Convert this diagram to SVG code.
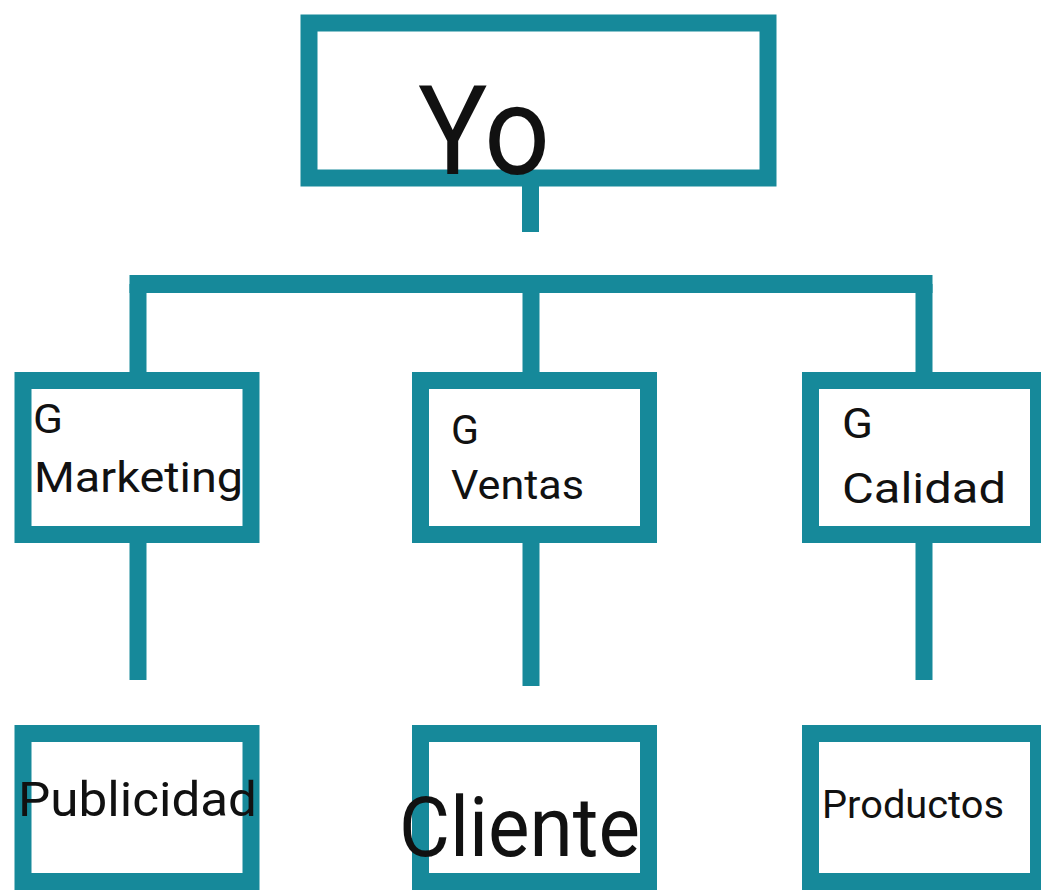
<svg xmlns="http://www.w3.org/2000/svg" width="1041" height="890" viewBox="0 0 1041 890">
<style>
.box{fill:none;stroke:#16899a;stroke-width:17}
.con{fill:none;stroke:#16899a;stroke-width:17;stroke-linecap:butt}
.t{font-family:Roboto,"Liberation Sans",sans-serif;fill:#111111}
</style>
<rect width="1041" height="890" fill="#ffffff"/>
<g id="connectors">
<line class="con" x1="530.5" y1="178" x2="530.5" y2="232"/>
<line class="con" x1="129.5" y1="284" x2="932.5" y2="284" style="stroke-width:18"/>
<line class="con" x1="138" y1="284" x2="138" y2="380"/>
<line class="con" x1="531" y1="284" x2="531" y2="380"/>
<line class="con" x1="924" y1="284" x2="924" y2="380"/>
<line class="con" x1="138" y1="535" x2="138" y2="680"/>
<line class="con" x1="531" y1="535" x2="531" y2="686"/>
<line class="con" x1="924" y1="535" x2="924" y2="680"/>
</g>
<g id="node-yo">
<rect class="box" x="309" y="23" width="459" height="155"/>
<text class="t" x="418" y="174" font-size="124" textLength="132" lengthAdjust="spacingAndGlyphs">Yo</text>
</g>
<g id="node-marketing">
<rect class="box" x="23" y="380.5" width="228" height="154"/>
<text class="t" x="33" y="433" font-size="41" textLength="30" lengthAdjust="spacingAndGlyphs">G</text>
<text class="t" x="34" y="492" font-size="43" textLength="209" lengthAdjust="spacingAndGlyphs">Marketing</text>
</g>
<g id="node-ventas">
<rect class="box" x="420.5" y="380.5" width="228" height="154"/>
<text class="t" x="451" y="444" font-size="40" textLength="28" lengthAdjust="spacingAndGlyphs">G</text>
<text class="t" x="451" y="499" font-size="41" textLength="133" lengthAdjust="spacingAndGlyphs">Ventas</text>
</g>
<g id="node-calidad">
<rect class="box" x="810.5" y="380.5" width="228" height="154"/>
<text class="t" x="842" y="438" font-size="42" textLength="31" lengthAdjust="spacingAndGlyphs">G</text>
<text class="t" x="842" y="503" font-size="43" textLength="164" lengthAdjust="spacingAndGlyphs">Calidad</text>
</g>
<g id="node-publicidad">
<rect class="box" x="23" y="733.5" width="228" height="148"/>
<text class="t" x="18" y="816" font-size="48" textLength="239" lengthAdjust="spacingAndGlyphs">Publicidad</text>
</g>
<g id="node-cliente">
<rect class="box" x="420.5" y="733.5" width="228" height="148"/>
<text class="t" x="399" y="856" font-size="84" textLength="241" lengthAdjust="spacingAndGlyphs">Cliente</text>
</g>
<g id="node-productos">
<rect class="box" x="810.5" y="733.5" width="228" height="148"/>
<text class="t" x="822" y="818" font-size="39" textLength="182" lengthAdjust="spacingAndGlyphs">Productos</text>
</g>
</svg>
